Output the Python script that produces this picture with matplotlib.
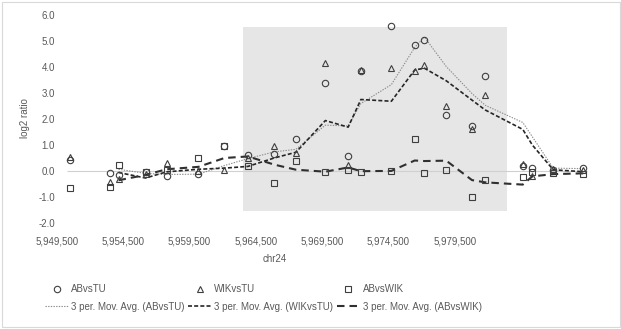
import matplotlib

matplotlib.use("Agg")
import matplotlib.pyplot as plt
import pandas as pd
from matplotlib.patches import Rectangle
from matplotlib.ticker import FuncFormatter

plt.rcParams["font.family"] = ["Liberation Sans", "DejaVu Sans"]

# chr24 probe positions and log2 ratios for the three strain comparisons
positions = [
    5_950_450, 5_953_460, 5_954_140, 5_956_180, 5_957_760, 5_960_170, 5_962_130, 5_963_900,
    5_965_900, 5_967_520, 5_969_740, 5_971_460, 5_972_420, 5_974_720, 5_976_480, 5_977_210,
    5_978_860, 5_980_800, 5_981_800, 5_984_630, 5_985_350, 5_986_930, 5_989_190,
]
ab_vs_tu = [
    0.42, -0.07, -0.15, -0.05, -0.20, -0.12, 0.95, 0.60, 0.66, 1.24, 3.39, 0.57,
    3.83, 5.57, 4.86, 5.03, 2.16, 1.75, 3.67, 0.18, 0.10, 0.05, 0.12,
]
wik_vs_tu = [
    0.54, -0.41, -0.30, -0.10, 0.30, 0.00, 0.03, 0.50, 0.98, 0.68, 4.16, 0.22,
    3.87, 3.96, 3.83, 4.07, 2.51, 1.60, 2.93, 0.27, -0.20, 0.07, 0.05,
]
ab_vs_wik = [
    -0.66, -0.63, 0.22, -0.04, 0.02, 0.50, 0.98, 0.20, -0.45, 0.40, -0.03, 0.04,
    -0.03, 0.00, 1.24, -0.09, 0.04, -1.00, -0.35, -0.22, -0.05, -0.09, -0.13,
]

series_names = ["ABvsTU", "WIKvsTU", "ABvsWIK"]
x_ticks = [5_949_500, 5_954_500, 5_959_500, 5_964_500, 5_969_500, 5_974_500, 5_979_500]
y_ticks = [-2.0, -1.0, 0.0, 1.0, 2.0, 3.0, 4.0, 5.0, 6.0]
x_limits = (5_949_500, 5_989_700)
y_limits = (-2.0, 6.0)
axis_line_span = (5_950_220, 5_989_490)
highlight_x = (5_963_550, 5_983_450)
highlight_y = (-1.55, 5.52)

TEXT = "#595959"
MARKER_EDGE = "#3f3f3f"
FONT_SIZE = 7.0

frame = pd.DataFrame(
    {"pos": positions, "ABvsTU": ab_vs_tu, "WIKvsTU": wik_vs_tu, "ABvsWIK": ab_vs_wik}
).sort_values("pos")

W, H = 621, 329
fig = plt.figure(figsize=(W / 100, H / 100), dpi=100)
ax = fig.add_axes([57 / W, 1 - 223 / H, (590 - 57) / W, 208 / H])
ax.set_xlim(*x_limits)
ax.set_ylim(*y_limits)
for spine in ax.spines.values():
    spine.set_visible(False)

ax.add_patch(
    Rectangle(
        (highlight_x[0], highlight_y[0]),
        highlight_x[1] - highlight_x[0],
        highlight_y[1] - highlight_y[0],
        facecolor="#e6e6e6",
        edgecolor="none",
        zorder=0,
    )
)
ax.hlines(0.0, *axis_line_span, color="#d0d0d0", linewidth=0.8, zorder=1)

markers = {"ABvsTU": "o", "WIKvsTU": "^", "ABvsWIK": "s"}
ma_styles = {
    "ABvsTU": dict(color="#8a8a8a", linewidth=0.8, linestyle=(0, (1.2, 1.2))),
    "WIKvsTU": dict(color="#262626", linewidth=1.2, linestyle=(0, (2.4, 1.3))),
    "ABvsWIK": dict(color="#303030", linewidth=1.5, linestyle=(0, (3.6, 2.4))),
}

handles = []
for name in series_names:
    pts = ax.plot(
        frame["pos"], frame[name], linestyle="none", marker=markers[name],
        markersize=4.6 if name != "ABvsWIK" else 4.2,
        markerfacecolor="none", markeredgecolor=MARKER_EDGE, markeredgewidth=0.8,
        zorder=3, label=name,
    )[0]
    avg = frame[name].rolling(3).mean()
    line = ax.plot(
        frame["pos"], avg, zorder=2, label=f"3 per. Mov. Avg. ({name})", **ma_styles[name]
    )[0]
    handles += [pts, line]

ax.set_xticks(x_ticks)
ax.set_yticks(y_ticks)
ax.xaxis.set_major_formatter(FuncFormatter(lambda v, _: f"{v:,.0f}"))
ax.yaxis.set_major_formatter(FuncFormatter(lambda v, _: f"{v:.1f}"))
ax.tick_params(axis="both", length=0, colors=TEXT, labelsize=FONT_SIZE)
ax.tick_params(axis="x", pad=9.5)
ax.tick_params(axis="y", pad=1.5)

fig.text(25 / W, 1 - 118 / H, "log2 ratio", rotation=90, ha="center", va="center",
         color=TEXT, fontsize=FONT_SIZE)
fig.text(275 / W, 1 - 259 / H, "chr24", ha="center", va="center", color=TEXT,
         fontsize=FONT_SIZE)

fig.legend(
    handles=handles,
    loc="upper left",
    bbox_to_anchor=(45 / W, 1 - 284 / H),
    ncol=3,
    frameon=False,
    fontsize=FONT_SIZE,
    labelcolor=TEXT,
    borderpad=0,
    borderaxespad=0,
    handlelength=2.4,
    handletextpad=0.3,
    columnspacing=0.35,
    labelspacing=0.8,
)

fig.add_artist(
    Rectangle((1.5 / W, 2.5 / H), 618 / W, 325 / H, transform=fig.transFigure,
              facecolor="none", edgecolor="#d9d9d9", linewidth=0.8)
)

fig.savefig("out.png", dpi=100)
